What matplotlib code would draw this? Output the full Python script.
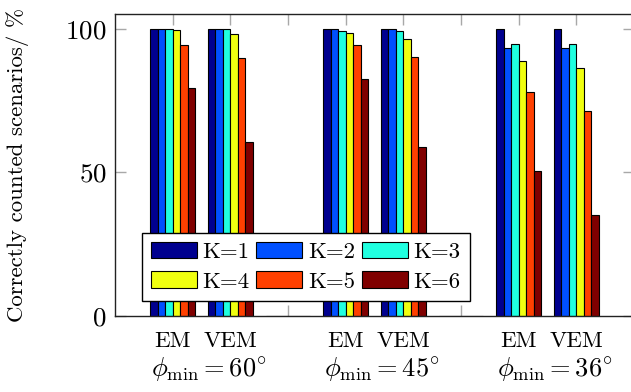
import matplotlib
matplotlib.use("Agg")
import matplotlib.pyplot as plt
import numpy as np
from matplotlib.patches import Patch
import matplotlib.transforms as mtransforms

plt.rcParams['font.family'] = ['cmr10', 'DejaVu Serif']
plt.rcParams['mathtext.fontset'] = 'cm'
plt.rcParams['axes.formatter.use_mathtext'] = True

# x slots: EM, VEM, (gap), EM, VEM, (gap), EM, VEM
tick_labels = ['EM', 'VEM', '', 'EM', 'VEM', '', 'EM', 'VEM']
group_labels = [r'$\phi_{\min} = 60^{\circ}$', r'$\phi_{\min} = 45^{\circ}$', r'$\phi_{\min} = 36^{\circ}$']
series_names = ['K=1', 'K=2', 'K=3', 'K=4', 'K=5', 'K=6']
colors = ['#00008f', '#0050ff', '#20ffe0', '#f0ff10', '#ff4000', '#800000']

K1 = [100, 100, 0, 100, 100, 0, 100, 100]
K2 = [100, 100, 0, 100, 100, 0, 93.4, 93.4]
K3 = [100, 100, 0, 99.1, 99.2, 0, 94.5, 94.5]
K4 = [99.6, 98.2, 0, 98.5, 96.3, 0, 88.6, 86.2]
K5 = [94.4, 89.7, 0, 94.3, 90.2, 0, 77.8, 71.5]
K6 = [79.4, 60.5, 0, 82.5, 58.9, 0, 50.6, 35.2]
series = [K1, K2, K3, K4, K5, K6]

fig = plt.figure(figsize=(6.31, 3.92), dpi=100)
ax = fig.add_axes([115/631, 1-316/392, (634-115)/631, (316-14.3)/392])

x = np.arange(len(tick_labels))
bw = 0.13
for i, (vals, c) in enumerate(zip(series, colors)):
    ax.bar(x + (i - 2.5) * bw, vals, width=bw, color=c, edgecolor='black',
           linewidth=0.8, zorder=2)

ax.set_xlim(-1, 8)
ax.set_ylim(0, 105)
ax.set_xticks(x)
ax.set_xticklabels(tick_labels, fontsize=16.5)
ax.set_yticks([0, 50, 100])
ax.tick_params(axis='y', labelsize=19.5)
ax.tick_params(direction='in', length=8, width=1, color='#a8a8a8',
               top=True, right=True, pad=6)
ax.tick_params(axis='x', pad=11)
for s in ax.spines.values():
    s.set_color('#222222')
    s.set_linewidth(1.0)

trans = mtransforms.blended_transform_factory(ax.transData, ax.transAxes)
for gi, lab in enumerate(group_labels):
    ax.text(gi * 3 + 0.5 + 0.13, -0.13, lab, transform=trans, ha='center',
            va='top', fontsize=19)

ax.set_ylabel('Correctly counted scenarios/ %', fontsize=16.5)
ax.yaxis.set_label_coords(-0.166, 0.5)

# legend filled row-wise: K=1 K=2 K=3 / K=4 K=5 K=6
order = [0, 3, 1, 4, 2, 5]
handles = [Patch(facecolor=colors[k], edgecolor='black', linewidth=0.8) for k in order]
labels = [series_names[k] for k in order]
leg = ax.legend(handles, labels, ncol=3, loc='lower left',
                bbox_to_anchor=(0.0514, 0.0507), borderaxespad=0,
                fontsize=16.5, handlelength=2.0, handleheight=0.7,
                handletextpad=0.25, columnspacing=0.3, labelspacing=0.4,
                borderpad=0.4, fancybox=False, framealpha=1,
                edgecolor='black')
leg.get_frame().set_linewidth(1.0)
leg.set_zorder(5)

fig.savefig('out.png', dpi=100)
